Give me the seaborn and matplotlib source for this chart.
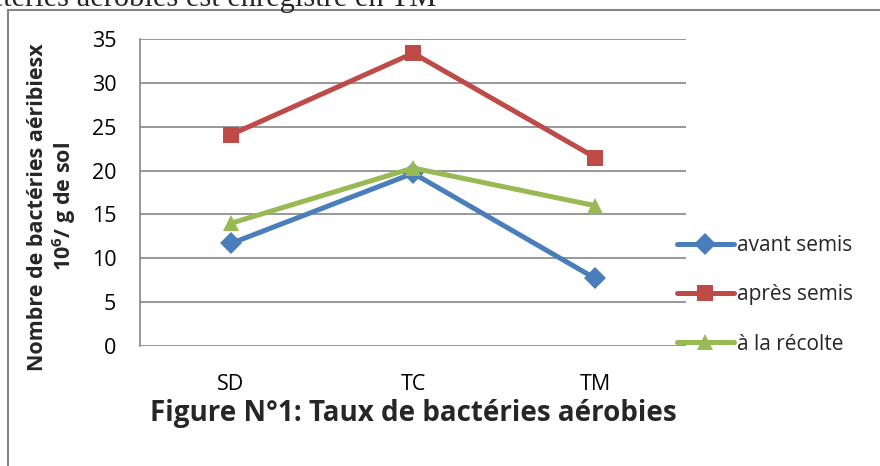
import pandas as pd
import matplotlib
matplotlib.use("Agg")
import matplotlib.pyplot as plt
from matplotlib.lines import Line2D
import seaborn as sns

sites = ["SD", "TC", "TM"]
avant_semis = [11.7, 19.7, 7.7]
apres_semis = [24.1, 33.4, 21.5]
a_la_recolte = [14.0, 20.3, 16.0]
series_names = ["avant semis", "après semis", "à la récolte"]

df = pd.DataFrame({
    "site": sites * 3,
    "value": avant_semis + apres_semis + a_la_recolte,
    "serie": [s for s in series_names for _ in sites],
})

sns.set_theme(style="white")
plt.rcParams["font.family"] = ["Open Sans", "DejaVu Sans"]
plt.rcParams["mathtext.fontset"] = "custom"
plt.rcParams["mathtext.rm"] = "Open Sans"
plt.rcParams["mathtext.bf"] = "Open Sans:bold"

palette = {"avant semis": "#4a7ebb", "après semis": "#be4b48", "à la récolte": "#98b954"}
markers = {"avant semis": "D", "après semis": "s", "à la récolte": "^"}

fig = plt.figure(figsize=(8.8, 4.66), dpi=100)
ax = fig.add_axes([0.159, 0.2575, 0.621, 0.6585])

sns.lineplot(data=df, x="site", y="value", hue="serie", style="serie",
             palette=palette, markers=markers, dashes=False, linewidth=3.6,
             markersize=11, markeredgewidth=0, sort=False, ax=ax)

ax.set_ylim(0, 35)
ax.set_xlim(-0.5, 2.5)
ax.set_yticks(range(0, 36, 5))
ax.yaxis.grid(True, color="#868686", linewidth=1.2)
ax.set_axisbelow(True)
for side in ["top", "right", "bottom"]:
    ax.spines[side].set_visible(False)
ax.spines["left"].set_color("#868686")
ax.spines["left"].set_linewidth(1.2)
ax.tick_params(axis="y", length=0, labelsize=15.5, pad=17)
ax.tick_params(axis="x", length=0, labelsize=15.5, pad=20)
for lbl in ax.get_xticklabels() + ax.get_yticklabels():
    lbl.set_color("black")

ax.set_xlabel("Figure N°1: Taux de bactéries aérobies", fontsize=20,
              fontweight="bold", labelpad=3)
ax.set_ylabel("Nombre de bactéries aéribiesx\n10$^{\\mathbf{6}}$/ g de sol", fontsize=15.5,
              fontweight="bold", linespacing=1.1)
ax.yaxis.set_label_coords(-0.114, 0.453)

ax.legend(title=None, frameon=False, loc="center left",
          bbox_to_anchor=(0.949, 0.167), fontsize=15, handlelength=2.7,
          handletextpad=0.15, labelspacing=1.36)

# cadre du graphique et texte coupé au-dessus
fig.add_artist(Line2D([0.009, 0.009], [0.0, 0.9785], color="#868686", linewidth=1.5))
fig.add_artist(Line2D([0.009, 1.0], [0.9785, 0.9785], color="#868686", linewidth=1.5))
fig.text(436 / 880, 0.987, "actéries aérobies est enregistré en TM", ha="right",
         va="baseline", fontsize=22, family=["Liberation Serif", "DejaVu Serif"])

fig.savefig("out.png", dpi=100)
